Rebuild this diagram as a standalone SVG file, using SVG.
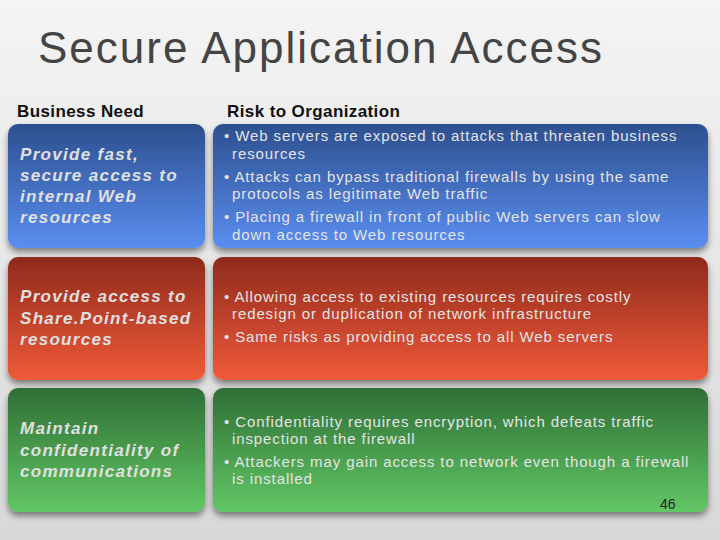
<svg xmlns="http://www.w3.org/2000/svg" width="720" height="540" viewBox="0 0 720 540">
<defs>
<linearGradient id="bg" x1="0" y1="0" x2="0" y2="1"><stop offset="0" stop-color="#f4f4f4"/><stop offset="1" stop-color="#d8d8d8"/></linearGradient>
<linearGradient id="blue" x1="0" y1="0" x2="0" y2="1"><stop offset="0" stop-color="#2d4f8e"/><stop offset="1" stop-color="#5a8ef0"/></linearGradient>
<linearGradient id="red" x1="0" y1="0" x2="0" y2="1"><stop offset="0" stop-color="#8e2a1c"/><stop offset="1" stop-color="#f05a3a"/></linearGradient>
<linearGradient id="green" x1="0" y1="0" x2="0" y2="1"><stop offset="0" stop-color="#2f6e35"/><stop offset="1" stop-color="#62c765"/></linearGradient>
<filter id="sh" x="-10%" y="-10%" width="120%" height="130%"><feDropShadow dx="0" dy="4" stdDeviation="3" flood-color="#000" flood-opacity="0.45"/></filter>
</defs>
<style>
.t{font-family:"Liberation Sans",Arial,sans-serif}
.need{font-family:"Liberation Sans",Arial,sans-serif;font-size:17px;font-weight:bold;font-style:italic;fill:#e0e0e0;letter-spacing:1.3px}
.risk{font-family:"Liberation Sans",Arial,sans-serif;font-size:15px;fill:#e4e4e4;letter-spacing:0.9px}
.hd{font-family:"Liberation Sans",Arial,sans-serif;font-size:17px;font-weight:bold;fill:#111;letter-spacing:0.4px}
</style>
<rect width="720" height="540" fill="url(#bg)"/>
<text class="t" x="38" y="63" font-size="44" fill="#444" letter-spacing="2">Secure Application Access</text>
<text class="hd" x="17" y="117">Business Need</text>
<text class="hd" x="227" y="117">Risk to Organization</text>
<g id="need1"><rect x="8" y="124" width="197" height="124" rx="10" fill="url(#blue)" filter="url(#sh)"/>
<text class="need"><tspan x="20" y="160">Provide fast,</tspan><tspan x="20" y="181">secure access to</tspan><tspan x="20" y="202">internal Web</tspan><tspan x="20" y="223">resources</tspan></text></g>
<g id="risk1"><rect x="213" y="124" width="495" height="124" rx="10" fill="url(#blue)" filter="url(#sh)"/>
<text class="risk"><tspan x="224" y="141">• Web servers are exposed to attacks that threaten business</tspan><tspan x="232" y="159">resources</tspan><tspan x="224" y="182">• Attacks can bypass traditional firewalls by using the same</tspan><tspan x="232" y="199">protocols as legitimate Web traffic</tspan><tspan x="224" y="222">• Placing a firewall in front of public Web servers can slow</tspan><tspan x="232" y="240">down access to Web resources</tspan></text></g>
<g id="need2"><rect x="8" y="257" width="197" height="123" rx="10" fill="url(#red)" filter="url(#sh)"/>
<text class="need"><tspan x="20" y="302">Provide access to</tspan><tspan x="20" y="324">Share.Point-based</tspan><tspan x="20" y="345">resources</tspan></text></g>
<g id="risk2"><rect x="213" y="257" width="495" height="123" rx="10" fill="url(#red)" filter="url(#sh)"/>
<text class="risk"><tspan x="224" y="302">• Allowing access to existing resources requires costly</tspan><tspan x="232" y="319">redesign or duplication of network infrastructure</tspan><tspan x="224" y="342">• Same risks as providing access to all Web servers</tspan></text></g>
<g id="need3"><rect x="8" y="388" width="197" height="124" rx="10" fill="url(#green)" filter="url(#sh)"/>
<text class="need"><tspan x="20" y="434">Maintain</tspan><tspan x="20" y="456">confidentiality of</tspan><tspan x="20" y="477">communications</tspan></text></g>
<g id="risk3"><rect x="213" y="388" width="495" height="124" rx="10" fill="url(#green)" filter="url(#sh)"/>
<text class="risk"><tspan x="224" y="427">• Confidentiality requires encryption, which defeats traffic</tspan><tspan x="232" y="444">inspection at the firewall</tspan><tspan x="224" y="467">• Attackers may gain access to network even though a firewall</tspan><tspan x="232" y="484">is installed</tspan></text>
<text class="t" x="660" y="509" font-size="14" fill="#222">46</text></g>
<g id="connectors"/>
</svg>
